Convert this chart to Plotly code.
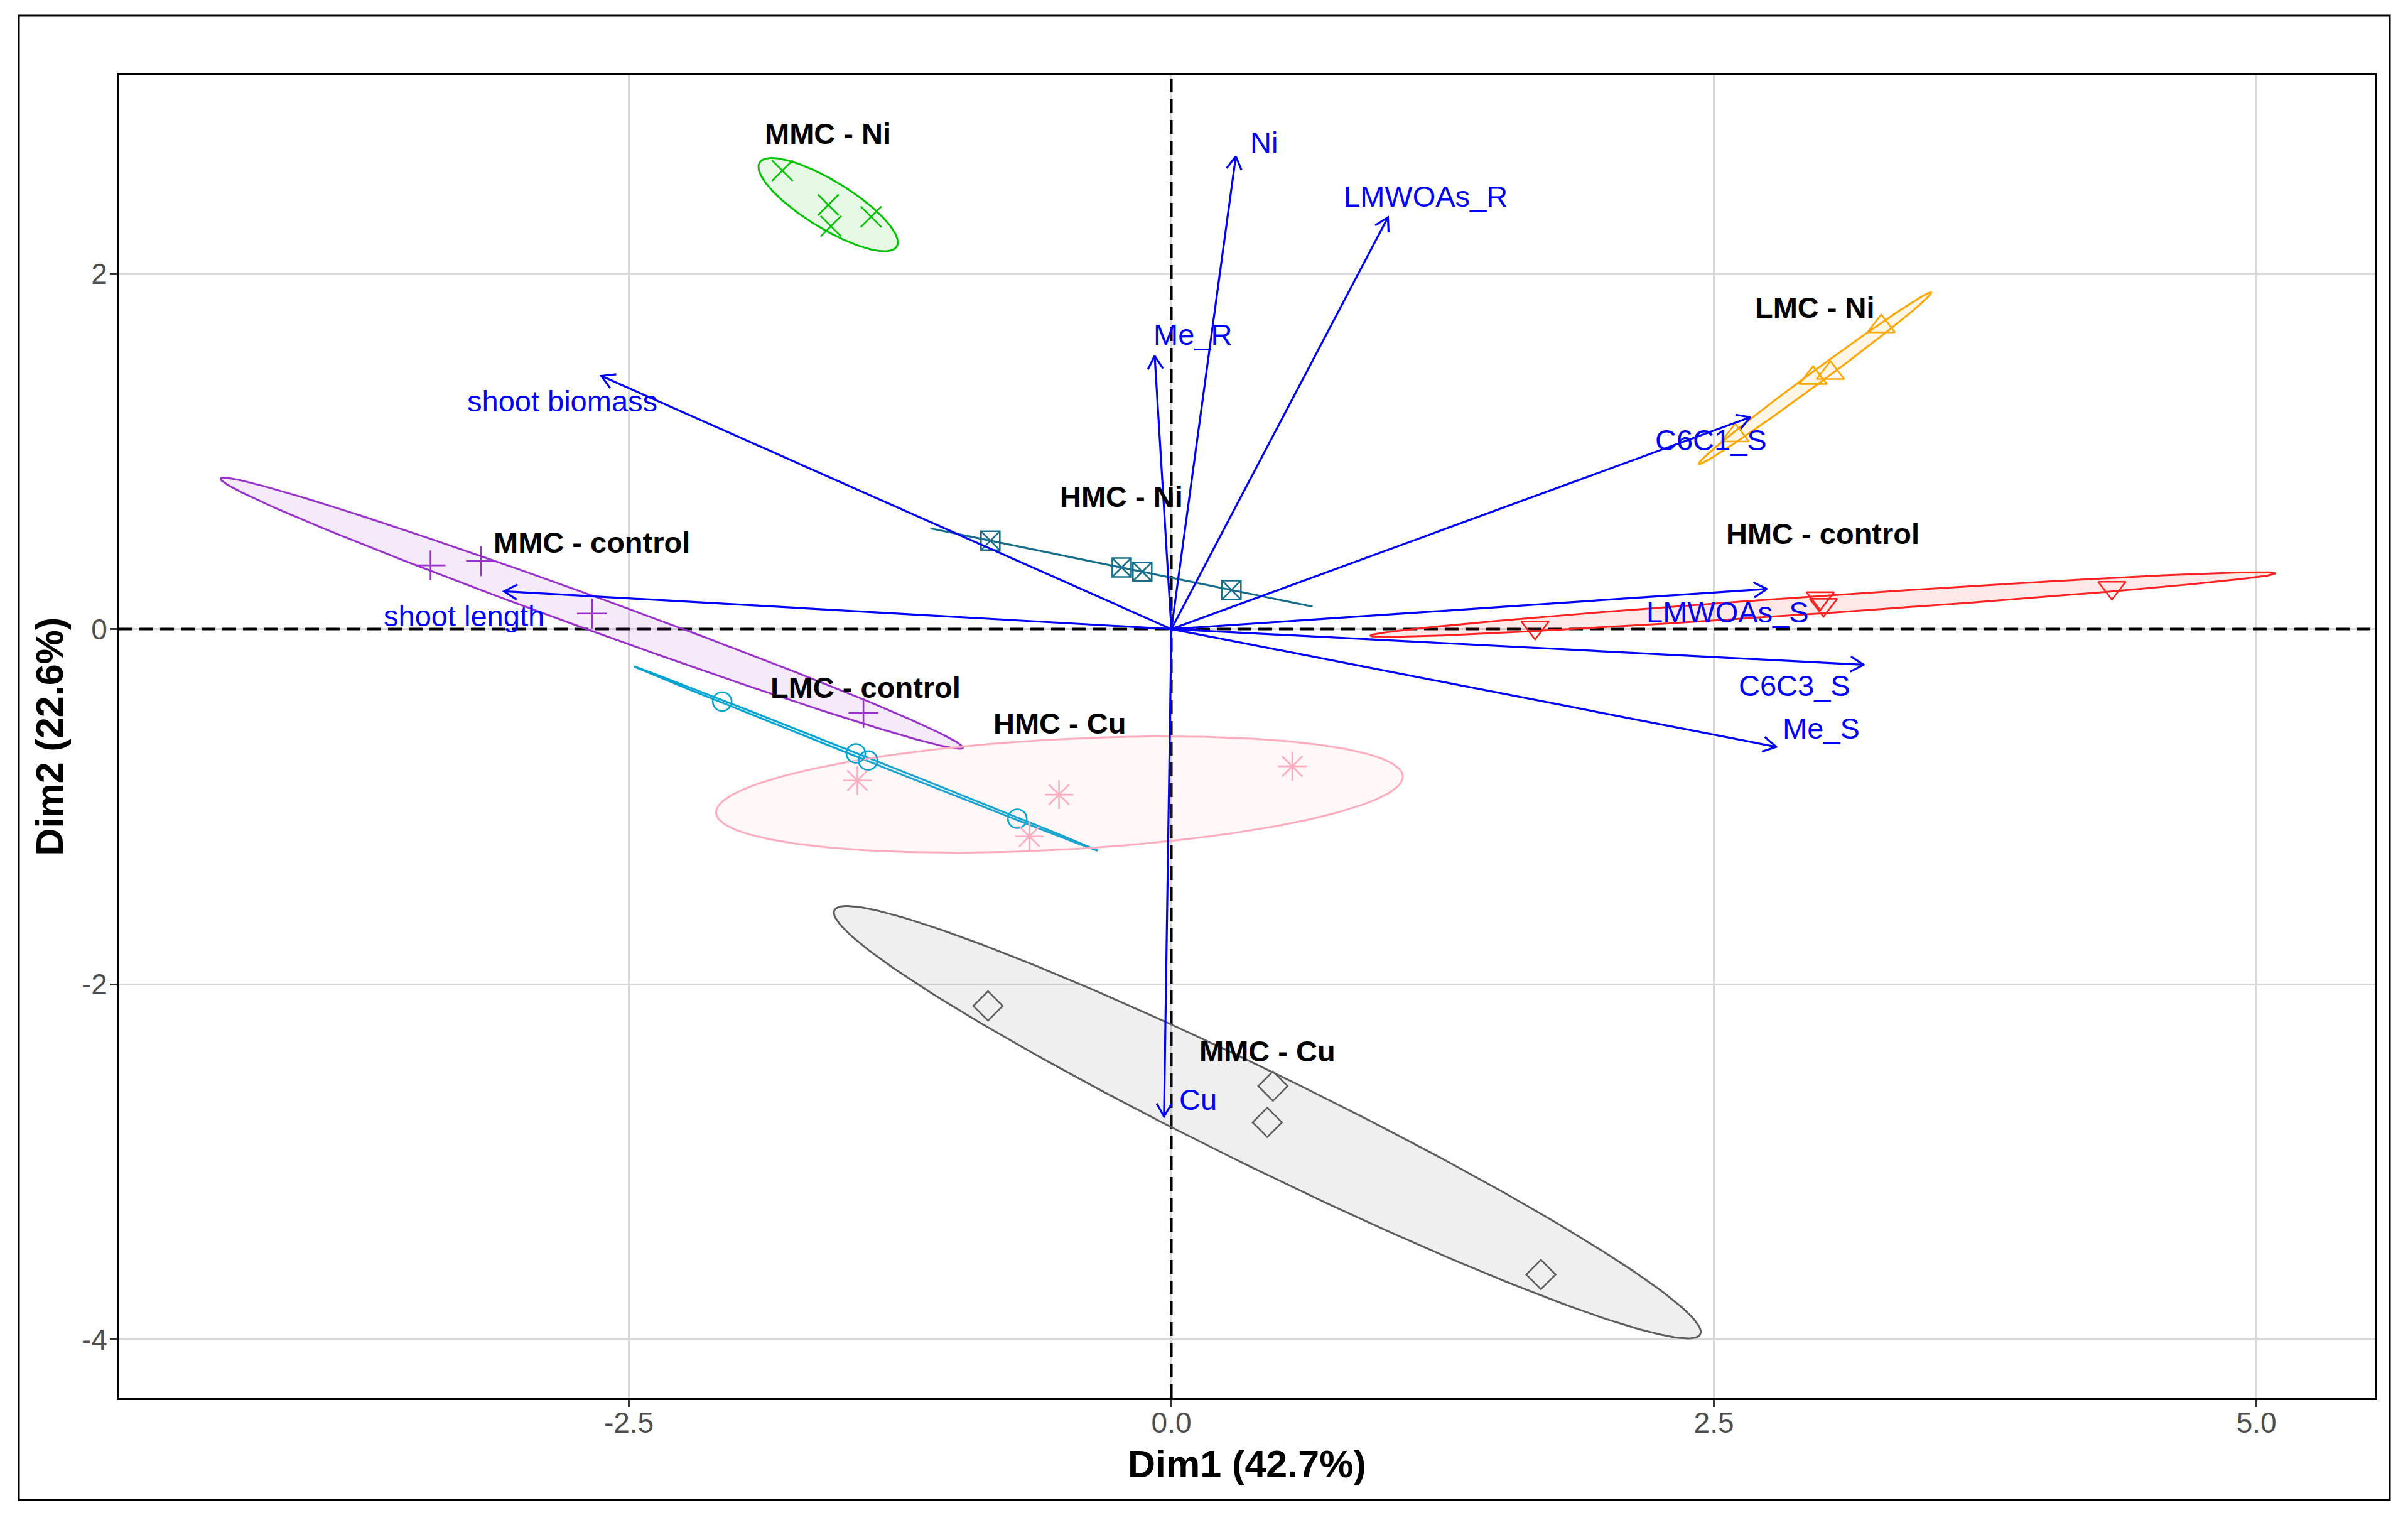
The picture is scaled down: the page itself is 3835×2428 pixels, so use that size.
import numpy as np
import plotly.graph_objects as go

# ---------------- data ----------------
GROUP_NAMES = ["MMC - Ni", "LMC - Ni", "HMC - Ni", "MMC - control",
               "HMC - control", "LMC - control", "HMC - Cu", "MMC - Cu"]

mmc_ni_x = [-1.793, -1.581, -1.569, -1.384]
mmc_ni_y = [2.582, 2.389, 2.269, 2.322]
lmc_ni_x = [3.271, 2.957, 3.037, 2.598]
lmc_ni_y = [1.705, 1.414, 1.442, 1.090]
hmc_ni_x = [-0.834, -0.229, -0.134, 0.277]
hmc_ni_y = [0.498, 0.347, 0.323, 0.220]
mmc_ctrl_x = [-3.414, -3.181, -2.670, -1.419]
mmc_ctrl_y = [0.359, 0.383, 0.088, -0.472]
hmc_ctrl_x = [1.676, 2.990, 3.005, 4.334]
hmc_ctrl_y = [0.009, 0.174, 0.137, 0.233]
lmc_ctrl_x = [-2.070, -1.454, -1.398, -0.710]
lmc_ctrl_y = [-0.408, -0.700, -0.740, -1.068]
hmc_cu_x = [-1.447, -0.518, -0.655, 0.557]
hmc_cu_y = [-0.853, -0.932, -1.168, -0.773]
mmc_cu_x = [-0.845, 0.468, 0.442, 1.703]
mmc_cu_y = [-2.122, -2.574, -2.778, -3.635]

GROUP_X = [mmc_ni_x, lmc_ni_x, hmc_ni_x, mmc_ctrl_x, hmc_ctrl_x, lmc_ctrl_x, hmc_cu_x, mmc_cu_x]
GROUP_Y = [mmc_ni_y, lmc_ni_y, hmc_ni_y, mmc_ctrl_y, hmc_ctrl_y, lmc_ctrl_y, hmc_cu_y, mmc_cu_y]

VAR_NAMES = ["Ni", "LMWOAs_R", "Me_R", "shoot biomass", "shoot length",
             "C6C1_S", "LMWOAs_S", "C6C3_S", "Me_S", "Cu"]
VAR_X = [0.297, 0.998, -0.077, -2.627, -3.075, 2.668, 2.744, 3.190, 2.787, -0.034]
VAR_Y = [2.663, 2.319, 1.539, 1.426, 0.213, 1.193, 0.226, -0.201, -0.663, -2.745]
VAR_LABEL_X = [0.427, 1.171, 0.097, -2.807, -3.260, 2.488, 2.562, 2.873, 2.995, 0.122]
VAR_LABEL_Y = [2.743, 2.437, 1.661, 1.286, 0.076, 1.064, 0.097, -0.317, -0.559, -2.648]

X_TICKS = [-2.5, 0.0, 2.5, 5.0]
X_TICK_LABELS = ["-2.5", "0.0", "2.5", "5.0"]
Y_TICKS = [-4, -2, 0, 2]
Y_TICK_LABELS = ["-4", "-2", "0", "2"]
X_TITLE = "Dim1 (42.7%)"
Y_TITLE = "Dim2 (22.6%)"

# ---------------- styles ----------------
GROUP_COLORS = ["#00C400", "#FFA500", "#176E8A", "#9932CC",
                "#FF2222", "#00A3D2", "#FFADBE", "#5E5E5E"]
GROUP_SYMBOLS = ["x-thin-open", "triangle-up-open", "square-x-open", "cross-thin-open",
                 "triangle-down-open", "circle-open", "asterisk-open", "diamond-open"]
GROUP_SIZES = [33, 38, 30, 34, 38, 30, 38, 36]

# page body has an 8px margin, so the figure is drawn 8px in from the window edge
W, H = 3819, 2412
ML, MR, MT, MB = 181, 44, 111, 194
X_RANGE = [-4.851, 5.548]
Y_RANGE = [-4.331, 3.122]
ELLIPSE_RADIUS = 1.92
GROUP_LABEL_DY = 0.40
FONT = "Liberation Sans, Arial, Helvetica, sans-serif"
ARROW_BLUE = "#0000FF"

SX = (W - ML - MR) / (X_RANGE[1] - X_RANGE[0])
SY = (H - MT - MB) / (Y_RANGE[1] - Y_RANGE[0])
PW, PH = W - ML - MR, H - MT - MB
XTITLE_CENTER_PX = 2323   # figure px from top
YTITLE_CENTER_PX = 70     # figure px from left


def rgba(hex_color, a):
    h = hex_color.lstrip("#")
    r, g, b = int(h[0:2], 16), int(h[2:4], 16), int(h[4:6], 16)
    return f"rgba({r},{g},{b},{a})"


def ellipse(xs, ys, n=240):
    pts = np.column_stack([xs, ys])
    c = pts.mean(axis=0)
    cov = np.cov(pts.T)
    vals, vecs = np.linalg.eigh(cov)
    vals = np.clip(vals, 0, None)
    A = vecs @ np.diag(np.sqrt(vals))
    t = np.linspace(0, 2 * np.pi, n)
    e = c[:, None] + ELLIPSE_RADIUS * (A @ np.vstack([np.cos(t), np.sin(t)]))
    return e[0], e[1]


fig = go.Figure()

# dashed reference lines at 0
fig.add_trace(go.Scatter(x=[X_RANGE[0], X_RANGE[1]], y=[0, 0], mode="lines",
                         line=dict(color="black", width=4, dash="22px,11px"),
                         hoverinfo="skip", showlegend=False))
fig.add_trace(go.Scatter(x=[0, 0], y=[Y_RANGE[0], Y_RANGE[1]], mode="lines",
                         line=dict(color="black", width=4, dash="22px,11px"),
                         hoverinfo="skip", showlegend=False))

# ellipses
for name, xs, ys, col in zip(GROUP_NAMES, GROUP_X, GROUP_Y, GROUP_COLORS):
    ex, ey = ellipse(xs, ys)
    fig.add_trace(go.Scatter(x=ex, y=ey, mode="lines", fill="toself",
                             fillcolor=rgba(col, 0.1),
                             line=dict(color=col, width=3),
                             hoverinfo="skip", showlegend=False))

# points
for name, xs, ys, col, sym, sz in zip(GROUP_NAMES, GROUP_X, GROUP_Y, GROUP_COLORS,
                                      GROUP_SYMBOLS, GROUP_SIZES):
    fig.add_trace(go.Scatter(x=xs, y=ys, mode="markers", name=name,
                             marker=dict(symbol=sym, size=sz, color=col,
                                         line=dict(color=col, width=2.6)),
                             showlegend=False))

# variable arrows (shaft + open head)
ax, ay = [], []
HEAD_LEN = 24.0
HEAD_ANG = np.deg2rad(30)
for vx, vy in zip(VAR_X, VAR_Y):
    ax += [0, vx, None]
    ay += [0, vy, None]
    px, py = vx * SX, vy * SY
    norm = np.hypot(px, py)
    ux, uy = -px / norm, -py / norm
    arms = []
    for s in (1, -1):
        ca, sa = np.cos(s * HEAD_ANG), np.sin(s * HEAD_ANG)
        rx, ry = ux * ca - uy * sa, ux * sa + uy * ca
        arms.append(((px + HEAD_LEN * rx) / SX, (py + HEAD_LEN * ry) / SY))
    ax += [arms[0][0], vx, arms[1][0], None]
    ay += [arms[0][1], vy, arms[1][1], None]
fig.add_trace(go.Scatter(x=ax, y=ay, mode="lines",
                         line=dict(color=ARROW_BLUE, width=3.2),
                         hoverinfo="skip", showlegend=False))

annotations = []
for name, lx, ly in zip(VAR_NAMES, VAR_LABEL_X, VAR_LABEL_Y):
    annotations.append(dict(x=lx, y=ly, xref="x", yref="y", text=name, showarrow=False,
                            xanchor="center", yanchor="middle",
                            font=dict(family=FONT, size=47, color=ARROW_BLUE)))
for name, xs, ys in zip(GROUP_NAMES, GROUP_X, GROUP_Y):
    annotations.append(dict(x=float(np.mean(xs)), y=float(np.mean(ys)) + GROUP_LABEL_DY,
                            xref="x", yref="y", text=f"<b>{name}</b>", showarrow=False,
                            xanchor="center", yanchor="middle",
                            font=dict(family=FONT, size=47, color="black")))

# axis titles
annotations.append(dict(x=0.5, y=(MT + PH - XTITLE_CENTER_PX) / PH,
                        xref="paper", yref="paper", text=f"<b>{X_TITLE}</b>",
                        showarrow=False, xanchor="center", yanchor="middle",
                        font=dict(family=FONT, size=61, color="black")))
annotations.append(dict(x=(YTITLE_CENTER_PX - ML) / PW, y=0.5, xref="paper", yref="paper",
                        text=f"<b>{Y_TITLE}</b>", textangle=-90,
                        showarrow=False, xanchor="center", yanchor="middle",
                        font=dict(family=FONT, size=61, color="black")))

fig.update_layout(
    width=W, height=H,
    margin=dict(l=ML, r=MR, t=MT, b=MB, pad=0),
    paper_bgcolor="white", plot_bgcolor="white",
    font=dict(family=FONT, color="black"),
    showlegend=False,
    annotations=annotations,
    shapes=[dict(type="rect", xref="paper", yref="paper",
                 x0=(22 - ML) / PW, x1=(3798 - ML) / PW,
                 y0=(H - MB - 2380) / PH, y1=(H - MB - 17) / PH,
                 line=dict(color="black", width=3), fillcolor="rgba(0,0,0,0)",
                 layer="above")],
    xaxis=dict(range=X_RANGE, tickvals=X_TICKS, ticktext=X_TICK_LABELS,
               showgrid=True, gridcolor="#D9D9D9", gridwidth=3, zeroline=False,
               showline=True, mirror=True, linecolor="black", linewidth=3,
               ticks="outside", ticklen=11, tickwidth=3, tickcolor="#333333",
               ticklabelstandoff=-14,
               tickfont=dict(family=FONT, size=46, color="#4D4D4D")),
    yaxis=dict(range=Y_RANGE, tickvals=Y_TICKS, ticktext=Y_TICK_LABELS,
               showgrid=True, gridcolor="#D9D9D9", gridwidth=3, zeroline=False,
               showline=True, mirror=True, linecolor="black", linewidth=3,
               ticks="outside", ticklen=11, tickwidth=3, tickcolor="#333333",
               ticklabelstandoff=-5,
               tickfont=dict(family=FONT, size=46, color="#4D4D4D")),
)

fig.write_html("out.html")
